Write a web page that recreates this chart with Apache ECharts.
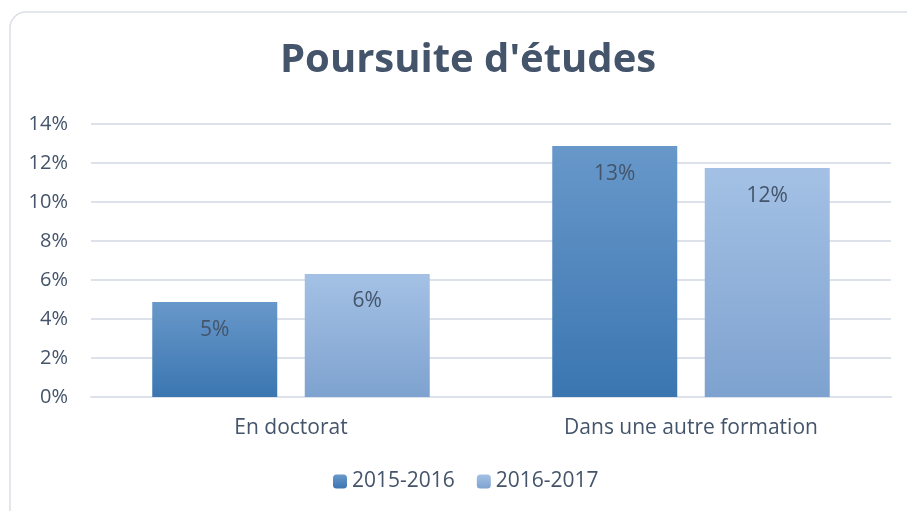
<!DOCTYPE html>
<html>
<head>
<meta charset="utf-8">
<script src="https://cdn.jsdelivr.net/npm/echarts@6/dist/echarts.min.js"></script>
<style>
  html, body { margin: 0; padding: 0; background: #fff; }
  #chart { width: 907px; height: 511px; }
</style>
</head>
<body>
<div id="chart"></div>
<script>
const categories = ['En doctorat', 'Dans une autre formation']
const seriesNames = ['2015-2016', '2016-2017']
const values2015 = [4.87, 12.87]
const values2016 = [6.31, 11.74]

const textColor = '#44546a'
const font = 'Open Sans'

const grad = (top, bottom) => new echarts.graphic.LinearGradient(0, 0, 0, 1, [
  { offset: 0, color: top },
  { offset: 1, color: bottom }
])

const chart = echarts.init(document.getElementById('chart'), null, { renderer: 'canvas' })

const labelOpt = {
  show: true,
  position: 'insideTop',
  distance: 17,
  color: textColor,
  fontFamily: font,
  fontSize: 21,
  formatter: p => Math.round(p.value) + '%'
}

chart.setOption({
  animation: false,
  graphic: [{
    type: 'rect',
    shape: { x: 10, y: 12, width: 920, height: 520, r: 16 },
    style: { fill: 'none', stroke: '#dadee5', lineWidth: 1.5 },
    silent: true
  }],
  title: {
    text: "Poursuite d'études",
    left: 275,
    top: 36,
    textStyle: { color: textColor, fontFamily: font, fontWeight: 'bold', fontSize: 40 }
  },
  legend: {
    data: seriesNames,
    bottom: 14,
    left: 328,
    itemWidth: 14,
    itemHeight: 14,
    itemGap: 22,
    textStyle: { color: textColor, fontFamily: font, fontSize: 21 }
  },
  grid: { left: 91, right: 16, top: 124, bottom: 114, containLabel: false },
  xAxis: {
    type: 'category',
    data: categories,
    axisLine: { lineStyle: { color: '#dde2ea', width: 2 } },
    axisTick: { show: false },
    axisLabel: { color: textColor, fontFamily: font, fontSize: 21, margin: 21 }
  },
  yAxis: {
    type: 'value',
    min: 0,
    max: 14,
    interval: 2,
    axisLine: { show: false },
    axisTick: { show: false },
    axisLabel: { color: textColor, fontFamily: font, fontSize: 20, margin: 23, formatter: '{value}%' },
    splitLine: { lineStyle: { color: '#dde2ea', width: 2 } }
  },
  series: [
    {
      name: seriesNames[0],
      type: 'bar',
      data: values2015,
      barWidth: 125,
      barGap: '22%',
      itemStyle: { color: grad('#6898ca', '#3b76b1') },
      label: labelOpt
    },
    {
      name: seriesNames[1],
      type: 'bar',
      data: values2016,
      barWidth: 125,
      itemStyle: { color: grad('#a4c1e5', '#7ea2cf') },
      label: labelOpt
    }
  ]
})
</script>
</body>
</html>
